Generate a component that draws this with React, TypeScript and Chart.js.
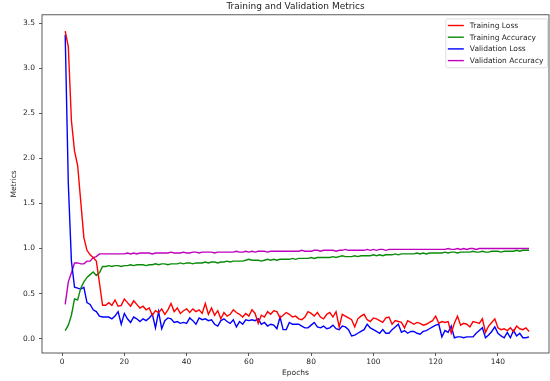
import React, { useEffect, useRef } from "react";
import { Chart, registerables } from "chart.js";

Chart.register(...registerables);

const titleText = "Training and Validation Metrics";
const xAxisTitle = "Epochs";
const yAxisTitle = "Metrics";
const xTicks = [0, 20, 40, 60, 80, 100, 120, 140];
const yTicks = [0.0, 0.5, 1.0, 1.5, 2.0, 2.5, 3.0, 3.5];
const seriesNames = ["Training Loss", "Training Accuracy", "Validation Loss", "Validation Accuracy"];
const seriesColors = ["#ff0000", "#0a8a0a", "#0000ff", "#bf00bf"];

const trainingLoss = [
  3.41, 3.24, 2.42, 2.08, 1.92, 1.52, 1.12, 0.98, 0.93, 0.90, 0.86, 0.62,
  0.37, 0.37, 0.40, 0.37, 0.43, 0.36, 0.37, 0.44,
  0.40, 0.36, 0.42, 0.38, 0.34, 0.36, 0.32, 0.34, 0.26, 0.31,
  0.29, 0.33, 0.27, 0.32, 0.39, 0.30, 0.34, 0.28, 0.31, 0.33,
  0.29, 0.33, 0.30, 0.32, 0.28, 0.39, 0.27, 0.34, 0.26, 0.31,
  0.22, 0.29, 0.25, 0.27, 0.32, 0.29, 0.27, 0.24, 0.28, 0.25,
  0.32, 0.28, 0.17, 0.26, 0.24, 0.30, 0.27, 0.31, 0.30, 0.23,
  0.26, 0.29, 0.27, 0.24, 0.25, 0.22, 0.21, 0.24, 0.30, 0.28,
  0.25, 0.29, 0.24, 0.22, 0.27, 0.29, 0.24, 0.30, 0.13, 0.27,
  0.25, 0.23, 0.21, 0.13, 0.22, 0.25, 0.27, 0.21, 0.19, 0.23,
  0.22, 0.20, 0.18, 0.23, 0.24, 0.16, 0.20, 0.19, 0.18, 0.12,
  0.20, 0.18, 0.16, 0.18, 0.17, 0.15, 0.16, 0.18, 0.20, 0.25,
  0.17, 0.19, 0.18, 0.19, 0.06, 0.17, 0.25, 0.15, 0.17, 0.16,
  0.13, 0.19, 0.18, 0.17, 0.22, 0.07, 0.14, 0.18, 0.22, 0.12,
  0.10, 0.11, 0.09, 0.12, 0.08, 0.14, 0.11, 0.10, 0.12, 0.08,
];

const trainingAccuracy = [
  0.09, 0.15, 0.26, 0.44, 0.43, 0.56, 0.63, 0.68, 0.71, 0.74, 0.70, 0.73,
  0.80, 0.80, 0.81, 0.80, 0.81, 0.81, 0.80, 0.81,
  0.81, 0.82, 0.81, 0.82, 0.82, 0.82, 0.81, 0.82, 0.82, 0.83,
  0.82, 0.83, 0.83, 0.82, 0.83, 0.83, 0.83, 0.84, 0.83, 0.84,
  0.84, 0.83, 0.84, 0.84, 0.84, 0.85, 0.84, 0.85, 0.85, 0.84,
  0.85, 0.85, 0.86, 0.85, 0.86, 0.86, 0.86, 0.86, 0.87, 0.88,
  0.87, 0.87, 0.87, 0.86, 0.87, 0.88, 0.87, 0.88, 0.87, 0.88,
  0.88, 0.88, 0.88, 0.89, 0.88, 0.89, 0.89, 0.89, 0.89, 0.90,
  0.89, 0.90, 0.90, 0.90, 0.90, 0.90, 0.91, 0.90, 0.91, 0.92,
  0.91, 0.91, 0.91, 0.92, 0.91, 0.92, 0.92, 0.92, 0.92, 0.93,
  0.92, 0.93, 0.92, 0.93, 0.93, 0.93, 0.94, 0.93, 0.94, 0.94,
  0.94, 0.94, 0.94, 0.95, 0.94, 0.95, 0.94, 0.95, 0.95, 0.95,
  0.95, 0.95, 0.96, 0.95, 0.96, 0.96, 0.95, 0.96, 0.96, 0.96,
  0.96, 0.97, 0.96, 0.96, 0.97, 0.96, 0.96, 0.97, 0.97, 0.97,
  0.96, 0.97, 0.97, 0.97, 0.97, 0.98, 0.97, 0.98, 0.98, 0.98,
];

const validationLoss = [
  3.37, 1.72, 0.86, 0.57, 0.56, 0.55, 0.57, 0.40, 0.38, 0.32, 0.30, 0.25,
  0.24, 0.24, 0.24, 0.22, 0.25, 0.30, 0.16, 0.28,
  0.22, 0.18, 0.24, 0.22, 0.19, 0.22, 0.20, 0.23, 0.27, 0.12,
  0.30, 0.11, 0.20, 0.23, 0.22, 0.18, 0.19, 0.17, 0.18, 0.17,
  0.23, 0.20, 0.16, 0.23, 0.21, 0.22, 0.20, 0.21, 0.16, 0.14,
  0.20, 0.22, 0.19, 0.17, 0.21, 0.13, 0.19, 0.16, 0.21, 0.20,
  0.21, 0.20, 0.22, 0.16, 0.18, 0.14, 0.16, 0.15, 0.11, 0.24,
  0.10, 0.10, 0.18, 0.16, 0.16, 0.16, 0.14, 0.12, 0.12, 0.15,
  0.18, 0.13, 0.12, 0.14, 0.11, 0.12, 0.15, 0.11, 0.10, 0.14,
  0.13, 0.10, 0.03, 0.04, 0.06, 0.08, 0.10, 0.16, 0.12, 0.10,
  0.08, 0.06, 0.10, 0.06, 0.06, 0.10, 0.13, 0.16, 0.07, 0.09,
  0.06, 0.08, 0.08, 0.06, 0.05, 0.08, 0.09, 0.11, 0.13, 0.15,
  0.16, 0.02, 0.09, 0.07, 0.14, 0.01, 0.02, 0.02, 0.01, 0.02,
  0.02, 0.02, 0.06, 0.09, 0.12, 0.01, 0.04, 0.08, 0.13, 0.06,
  0.03, 0.01, 0.07, 0.01, 0.09, 0.03, 0.06, 0.01, 0.01, 0.02,
];

const validationAccuracy = [
  0.38, 0.63, 0.73, 0.84, 0.84, 0.83, 0.83, 0.86, 0.86, 0.90, 0.91, 0.94,
  0.94, 0.94, 0.94, 0.94, 0.94, 0.94, 0.94, 0.94,
  0.95, 0.94, 0.95, 0.94, 0.95, 0.95, 0.95, 0.95, 0.94, 0.95,
  0.95, 0.95, 0.95, 0.95, 0.96, 0.95, 0.95, 0.95, 0.96, 0.95,
  0.95, 0.96, 0.96, 0.95, 0.96, 0.96, 0.96, 0.96, 0.95, 0.96,
  0.96, 0.96, 0.96, 0.96, 0.96, 0.97, 0.96, 0.96, 0.97, 0.96,
  0.97, 0.96, 0.97, 0.97, 0.97, 0.96, 0.97, 0.97, 0.97, 0.97,
  0.97, 0.97, 0.97, 0.97, 0.97, 0.97, 0.98, 0.97, 0.97, 0.97,
  0.98, 0.98, 0.97, 0.98, 0.98, 0.98, 0.98, 0.97, 0.98, 0.98,
  0.99, 0.98, 0.98, 0.98, 0.98, 0.98, 0.98, 0.99, 0.98, 0.99,
  0.98, 0.99, 0.99, 0.98, 0.99, 0.99, 0.99, 0.99, 0.99, 0.99,
  0.99, 0.99, 0.99, 0.99, 0.99, 0.99, 0.99, 0.99, 0.99, 0.99,
  0.99, 0.99, 0.99, 1.00, 0.99, 0.99, 1.00, 0.99, 1.00, 0.99,
  1.00, 1.00, 0.99, 1.00, 1.00, 1.00, 1.00, 1.00, 1.00, 1.00,
  1.00, 1.00, 1.00, 1.00, 1.00, 1.00, 1.00, 1.00, 1.00, 1.00,
];

const allSeries = [trainingLoss, trainingAccuracy, validationLoss, validationAccuracy];
const FONT = "'DejaVu Sans', sans-serif";

const framePlugin = {
  id: "frameAndLegend",
  afterDraw(chart: any) {
    const { ctx, chartArea: a } = chart;
    ctx.save();
    ctx.strokeStyle = "#333";
    ctx.lineWidth = 0.8;
    ctx.strokeRect(a.left, a.top, a.right - a.left, a.bottom - a.top);
    const ds = chart.data.datasets;
    ctx.font = `7.5px ${FONT}`;
    let tw = 0;
    ds.forEach((d: any) => { tw = Math.max(tw, ctx.measureText(d.label).width); });
    const right = a.right - 1.5;
    const top = a.top + 4;
    const w = 2 + 16 + 6 + tw + 4;
    const h = 49;
    const left = right - w;
    const r = 2;
    ctx.beginPath();
    ctx.moveTo(left + r, top);
    ctx.lineTo(right - r, top);
    ctx.quadraticCurveTo(right, top, right, top + r);
    ctx.lineTo(right, top + h - r);
    ctx.quadraticCurveTo(right, top + h, right - r, top + h);
    ctx.lineTo(left + r, top + h);
    ctx.quadraticCurveTo(left, top + h, left, top + h - r);
    ctx.lineTo(left, top + r);
    ctx.quadraticCurveTo(left, top, left + r, top);
    ctx.closePath();
    ctx.fillStyle = "rgba(255,255,255,0.8)";
    ctx.fill();
    ctx.strokeStyle = "#d6d6d6";
    ctx.lineWidth = 0.8;
    ctx.stroke();
    ds.forEach((d: any, i: number) => {
      const y = top + 6.7 + i * 11.7;
      ctx.strokeStyle = d.borderColor;
      ctx.lineWidth = 1.4;
      ctx.beginPath();
      ctx.moveTo(left + 2, y);
      ctx.lineTo(left + 18, y);
      ctx.stroke();
      ctx.fillStyle = "#262626";
      ctx.textAlign = "left";
      ctx.textBaseline = "middle";
      ctx.fillText(d.label, left + 24, y + 0.5);
    });
    ctx.restore();
  },
};

export default function App() {
  const ref = useRef<HTMLCanvasElement | null>(null);
  useEffect(() => {
    document.body.style.margin = "0";
    const canvas = ref.current;
    if (!canvas) return;
    const datasets = allSeries.map((vals, i) => ({
      label: seriesNames[i],
      data: vals.map((v, j) => ({ x: j + 1, y: v })),
      borderColor: seriesColors[i],
      backgroundColor: seriesColors[i],
      borderWidth: 1.4,
      pointRadius: 0,
      tension: 0,
      fill: false,
    }));
    const chart = new Chart(canvas, {
      type: "line",
      data: { datasets },
      options: {
        responsive: false,
        animation: false,
        devicePixelRatio: 1,
        layout: { padding: { left: 0, right: 1, top: 0, bottom: 0 } },
        plugins: {
          legend: { display: false },
          tooltip: { enabled: false },
          title: {
            display: true,
            text: titleText,
            fullSize: false,
            color: "#222",
            font: { family: FONT, size: 9, weight: "normal" },
            padding: { top: 1, bottom: 3 },
          },
        },
        scales: {
          x: {
            type: "linear",
            min: -6.45,
            max: 156.4,
            afterBuildTicks: (s: any) => { s.ticks = xTicks.map((v) => ({ value: v })); },
            afterFit: (s: any) => { s.height = 28; },
            border: { display: false },
            grid: { drawOnChartArea: false, drawTicks: true, tickLength: 3, color: "#333", lineWidth: 0.8 },
            ticks: {
              color: "#262626",
              font: { family: FONT, size: 7.5 },
              padding: 2,
              maxRotation: 0,
              autoSkip: false,
              callback: (v: any) => String(v),
            },
            title: {
              display: true,
              text: xAxisTitle,
              color: "#262626",
              font: { family: FONT, size: 7.5 },
              padding: { top: 0, bottom: 3.5 },
            },
          },
          y: {
            type: "linear",
            min: -0.159,
            max: 3.592,
            afterBuildTicks: (s: any) => { s.ticks = yTicks.map((v) => ({ value: v })); },
            afterFit: (s: any) => { s.width = 42; },
            border: { display: false },
            grid: { drawOnChartArea: false, drawTicks: true, tickLength: 3, color: "#333", lineWidth: 0.8 },
            ticks: {
              color: "#262626",
              font: { family: FONT, size: 7.5 },
              padding: 4,
              autoSkip: false,
              callback: (v: any) => Number(v).toFixed(1),
            },
            title: {
              display: true,
              text: yAxisTitle,
              color: "#262626",
              font: { family: FONT, size: 7.5 },
              padding: { top: 9.5, bottom: 0 },
            },
          },
        },
      },
      plugins: [framePlugin],
    });
    return () => chart.destroy();
  }, []);
  return (
    <div style={{ width: 550, height: 381 }}>
      <canvas ref={ref} width={550} height={381} style={{ display: "block", width: 550, height: 381 }} />
    </div>
  );
}
